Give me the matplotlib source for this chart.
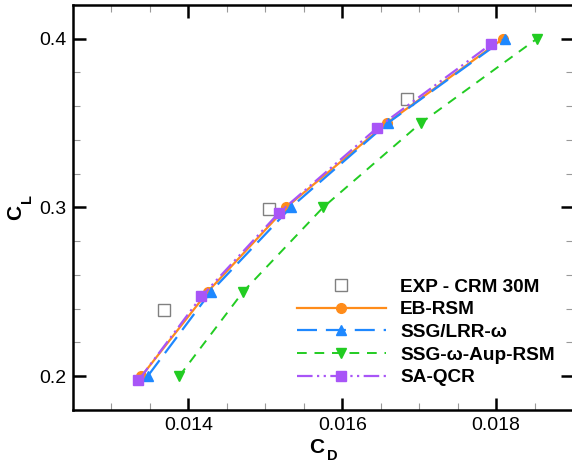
import matplotlib
matplotlib.use("Agg")
import matplotlib.pyplot as plt
from matplotlib.ticker import MultipleLocator, FormatStrFormatter

plt.rcParams['font.family'] = ['Liberation Sans', 'DejaVu Sans']

# Data
exp_cd = [0.01368, 0.01505, 0.01684]
exp_cl = [0.239, 0.299, 0.364]

eb_cd = [0.01339, 0.01425, 0.01527, 0.01658, 0.01809]
eb_cl = [0.200, 0.250, 0.300, 0.350, 0.400]

ssg_cd = [0.01347, 0.01429, 0.01533, 0.01659, 0.01811]
ssg_cl = [0.200, 0.250, 0.300, 0.350, 0.400]

aup_cd = [0.01388, 0.01471, 0.01575, 0.01702, 0.01853]
aup_cl = [0.200, 0.250, 0.300, 0.350, 0.400]

qcr_cd = [0.01335, 0.01417, 0.01518, 0.01645, 0.01794]
qcr_cl = [0.1975, 0.2473, 0.297, 0.347, 0.397]

labels = ["EXP - CRM 30M", "EB-RSM", "SSG/LRR-ω", "SSG-ω-Aup-RSM", "SA-QCR"]

W, H = 572, 465
fig = plt.figure(figsize=(W/100, H/100), dpi=100)
ax = fig.add_axes([73/W, 55/H, 500/W, 405/H])

ax.plot(exp_cd, exp_cl, linestyle='none', marker='s', markersize=9,
        markerfacecolor='white', markeredgecolor='#808080', markeredgewidth=1.0,
        label=labels[0], zorder=3)
ax.plot(eb_cd, eb_cl, color='#FF8C1A', lw=1.6, marker='o', markersize=7,
        label=labels[1], zorder=4)
ax.plot(ssg_cd, ssg_cl, color='#1E88FF', lw=1.6, dashes=(9, 4), marker='^',
        markersize=7, label=labels[2], zorder=5)
ax.plot(aup_cd, aup_cl, color='#22CC22', lw=1.4, dashes=(5, 4), marker='v',
        markersize=7, label=labels[3], zorder=4)
ax.plot(qcr_cd, qcr_cl, color='#A855F7', lw=1.6,
        dashes=(7, 2, 1, 2, 1, 2), marker='s', markersize=7,
        label=labels[4], zorder=6)

ax.set_xlim(0.0125, 0.019)
ax.set_ylim(0.18, 0.42)
ax.xaxis.set_major_locator(MultipleLocator(0.002))
ax.xaxis.set_minor_locator(MultipleLocator(0.0005))
ax.yaxis.set_major_locator(MultipleLocator(0.1))
ax.yaxis.set_minor_locator(MultipleLocator(0.02))
ax.xaxis.set_major_formatter(FormatStrFormatter('%.3f'))
ax.yaxis.set_major_formatter(FormatStrFormatter('%.1f'))

ax.tick_params(which='both', direction='in', top=True, right=True, labelsize=14)
ax.tick_params(which='major', length=9, width=1.8, color='black', pad=5)
ax.tick_params(which='minor', length=5, width=0.8, color='#999999')
for s in ax.spines.values():
    s.set_linewidth(1.8)

# Axis labels (bold C with subscript)
fig.text(309/W, 1 - 453/H, 'C', fontsize=15, fontweight='bold',
         ha='left', va='baseline')
fig.text(327/W, 1 - 460/H, 'D', fontsize=10.5, fontweight='bold',
         ha='left', va='baseline')
fig.text(21/W, 1 - 220/H, 'C', fontsize=15, fontweight='bold',
         ha='left', va='baseline', rotation=90, rotation_mode='anchor')
fig.text(31/W, 1 - 203/H, 'L', fontsize=10.5, fontweight='bold',
         ha='left', va='baseline', rotation=90, rotation_mode='anchor')

leg = ax.legend(loc='upper left', bbox_to_anchor=(0.447, 0.325), frameon=False,
                prop={'weight': 'bold', 'size': 13.7}, handlelength=4.7,
                handletextpad=0.75, labelspacing=0.28, borderpad=0,
                borderaxespad=0, numpoints=1)

fig.savefig('out.png', dpi=100)
